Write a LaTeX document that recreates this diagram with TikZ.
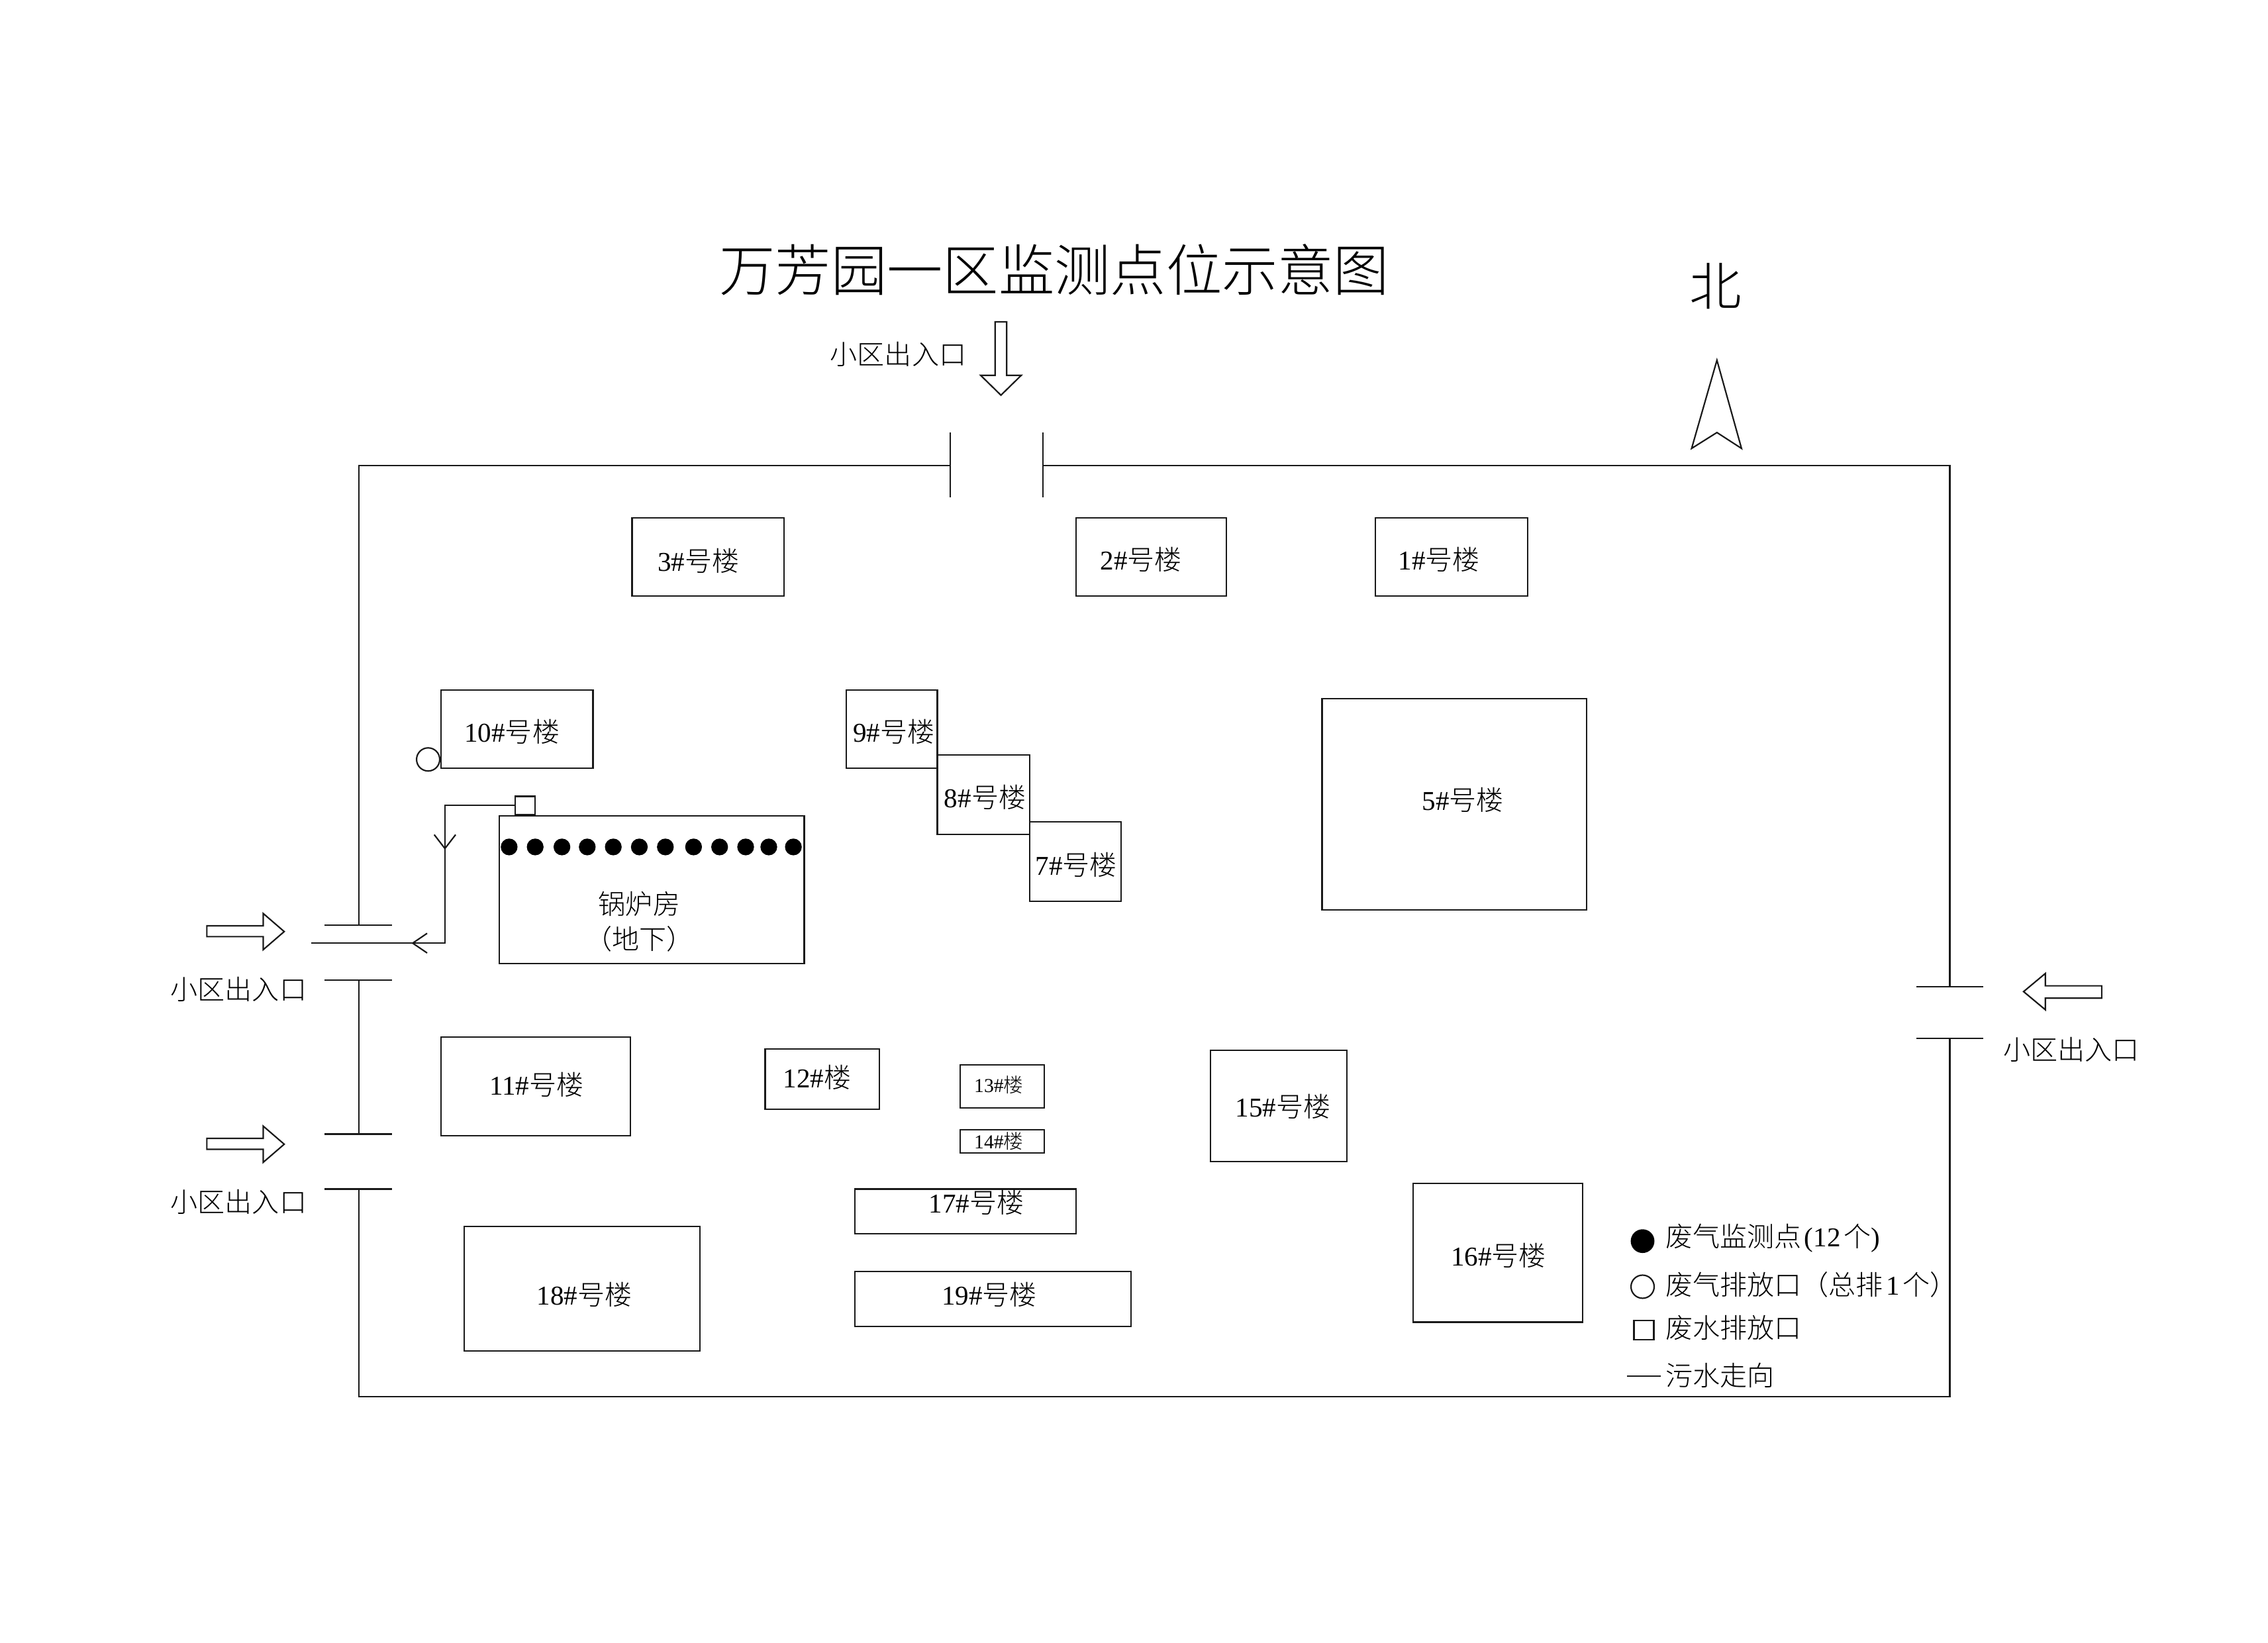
\documentclass[tikz,border=0pt]{standalone}
\usepackage{fontspec}
\setmainfont{Liberation Serif}
\newfontfamily\cjk{Noto Sans CJK SC Light}
\newcommand{\lou}[2]{#1{\cjk #2}}
\tikzset{every picture/.style={line width=0.5pt}}
\tikzset{
  wall/.style={color=black!90},
  mark lab/.style={inner sep=0pt,font=\fontsize{9.4}{11}\selectfont\cjk},
  bldg lab/.style={inner sep=0pt,font=\fontsize{9.4}{11}\selectfont},
  tiny lab/.style={inner sep=0pt,font=\fontsize{6.8}{8}\selectfont},
  legend lab/.style={inner sep=0pt,anchor=west,font=\fontsize{9.4}{11}\selectfont},
}
\begin{document}
\begin{tikzpicture}[x=0.5pt,y=0.5pt,yscale=-1,xscale=1]
\useasboundingbox (0,0) rectangle (1568,1135.4);

%Outer wall
\draw [wall] (657,322) -- (248,322) -- (248,639.7) ;
\draw [wall] (248,677.7) -- (248,784) ;
\draw [wall] (248,822) -- (248,965.5) -- (1348,965.5) -- (1348,718) ;
\draw [wall] (1348,682) -- (1348,322) -- (721,322) ;
%Gates
\draw [wall] (657,299) -- (657,344) ;
\draw [wall] (721,299) -- (721,344) ;
\foreach \gy in {639.7,677.7,784,822}
  \draw [wall] (224.5,\gy) -- (271,\gy) ;
\foreach \gy in {682,718}
  \draw [wall] (1325,\gy) -- (1371,\gy) ;

%Buildings
\draw [wall] (437,358) rectangle (542,412) ;
\draw [wall] (744,358) rectangle (848,412) ;
\draw [wall] (951,358) rectangle (1056,412) ;
\draw [wall] (305,477) rectangle (410,531) ;
\draw [wall] (585,477) rectangle (648,531) ;
\draw [wall] (648,522) rectangle (712,577) ;
\draw [wall] (712,568) rectangle (775,623) ;
\draw [wall] (914,483) rectangle (1097,629) ;
\draw [wall] (345,564) rectangle (556,666) ;
\draw [wall] (305,717) rectangle (436,785) ;
\draw [wall] (529,725) rectangle (608,767) ;
\draw [wall] (664,736) rectangle (722,766) ;
\draw [wall] (664,781) rectangle (722,797) ;
\draw [wall] (837,726) rectangle (931,803) ;
\draw [wall] (591,822) rectangle (744,853) ;
\draw [wall] (591,879) rectangle (782,917) ;
\draw [wall] (321,848) rectangle (484,934) ;
\draw [wall] (977,818) rectangle (1094,914) ;

%Monitoring points
\foreach \dx in {352,370,388.5,406,424,442,460,479.5,497.5,515.5,531.5,548.5}
  \fill (\dx,585.5) circle (5.8) ;
%Exhaust outlet
\draw [wall] (296,525) circle (8) ;

%Sewage line
\node [draw,wall,inner sep=0pt,minimum width=6.8pt,minimum height=6.3pt] (outfall) at (363,556.8) {} ;
\coordinate (sewerEnd) at (215,652) ;
\draw [wall] (outfall.west) -- (307.6,556.8) -- (307.6,652) -- (sewerEnd) ;
\draw [wall] (300.2,577) -- (307.6,586.6) -- (315,577) ;
\draw [wall] (295.3,645.2) -- (285.3,652) -- (295.3,658.8) ;

%Gate arrows
\draw [wall] (143,640) -- (182,640) -- (182,631.5) -- (196.5,644) -- (182,656.5) -- (182,647.5) -- (143,647.5) -- cycle ;
\draw [wall] (143,787) -- (182,787) -- (182,778.5) -- (196.5,791) -- (182,803.5) -- (182,794.5) -- (143,794.5) -- cycle ;
\draw [wall] (1453,681.5) -- (1414,681.5) -- (1414,673) -- (1399,685.5) -- (1414,698) -- (1414,690) -- (1453,690) -- cycle ;
\draw [wall] (688,222.5) -- (696,222.5) -- (696,259.5) -- (706,259.5) -- (692,273.2) -- (678,259.5) -- (688,259.5) -- cycle ;
%North arrow
\draw [wall] (1187,249) -- (1204,310) -- (1187,299) -- (1169.5,310) -- cycle ;

% Legend marks
\fill (1135.6,858) circle (8.2) ;
\draw [wall] (1135.6,889.5) circle (8) ;
\draw [wall] (1129.6,913) rectangle (1143.4,926) ;
\draw [wall] (1125,951.5) -- (1148,951.5) ;

% Text Node
\node [inner sep=0pt,font=\fontsize{19.3}{22}\selectfont\cjk] (title) at (729,186.5) {万芳园一区监测点位示意图};
\node [inner sep=0pt,font=\fontsize{18}{20}\selectfont\cjk] (north) at (1186,198) {北};
\node [mark lab] (gateN) at (621,245) {小区出入口};
\node [mark lab] (gateWa) at (165,684) {小区出入口};
\node [mark lab] (gateWb) at (165,831) {小区出入口};
\node [mark lab] (gateE) at (1432,725.5) {小区出入口};
% Text Node
\node [bldg lab] (b3) at (483,387.5) {\lou{3\#}{号楼}};
\node [bldg lab] (b2) at (789,387) {\lou{2\#}{号楼}};
\node [bldg lab] (b1) at (995,387) {\lou{1\#}{号楼}};
\node [bldg lab] (b10) at (354,506) {\lou{10\#}{号楼}};
\node [bldg lab] (b9) at (618,506) {\lou{9\#}{号楼}};
\node [bldg lab] (b8) at (681,551) {\lou{8\#}{号楼}};
\node [bldg lab] (b7) at (744,598) {\lou{7\#}{号楼}};
\node [bldg lab] (b5) at (1011.5,553) {\lou{5\#}{号楼}};
\node [bldg lab] (b11) at (371,750) {\lou{11\#}{号楼}};
\node [bldg lab] (b12) at (565,745) {\lou{12\#}{楼}};
\node [tiny lab] (b13) at (690.5,750) {\lou{13\#}{楼}};
\node [tiny lab] (b14) at (690.5,789) {\lou{14\#}{楼}};
\node [bldg lab] (b15) at (887,765) {\lou{15\#}{号楼}};
\node [bldg lab] (b17) at (675,831.5) {\lou{17\#}{号楼}};
\node [bldg lab] (b19) at (684,895) {\lou{19\#}{号楼}};
\node [bldg lab] (b18) at (404,895) {\lou{18\#}{号楼}};
\node [bldg lab] (b16) at (1036,868) {\lou{16\#}{号楼}};
\node [mark lab] (boiler) at (442,625) {锅炉房};
\node [mark lab] (under) at (442,649) {（地下）};
% Text Node
\node [legend lab] (lgA) at (1151,856) {{\cjk 废气监测点}\kern1pt(12\kern1pt{\cjk 个})};
\node [legend lab] (lgB) at (1151,888) {{\cjk 废气排放口（总排}\kern1pt 1\kern1pt{\cjk 个）}};
\node [legend lab] (lgC) at (1151,918) {{\cjk 废水排放口}};
\node [legend lab] (lgD) at (1151,951) {{\cjk 污水走向}};

\end{tikzpicture}
\end{document}
